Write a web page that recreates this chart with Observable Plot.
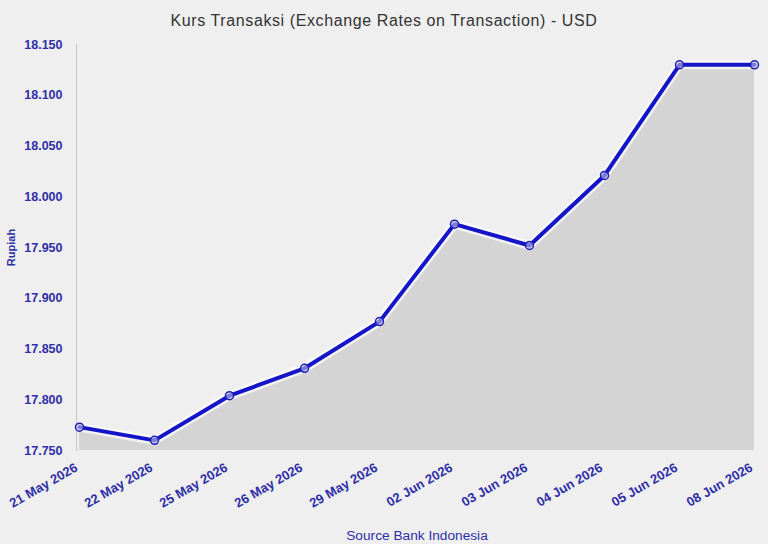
<!DOCTYPE html>
<html>
<head>
<meta charset="utf-8">
<script src="https://cdn.jsdelivr.net/npm/d3@7"></script>
<script src="https://cdn.jsdelivr.net/npm/@observablehq/plot@0.6"></script>
<style>
  html, body { margin: 0; padding: 0; background: #efefef; }
  #wrap { width: 768px; height: 544px; background: #efefef; font-family: "Liberation Sans", Arial, sans-serif; }
  #title { height: 34px; line-height: 41px; text-align: center; font-size: 16px; letter-spacing: 0.6px; color: #333; padding-left: 0; }
  #caption { height: 34px; box-sizing: border-box; padding-top: 17px; line-height: 18px; font-size: 13.7px; color: #2e2ea8; text-align: center; padding-left: 66px; }
  #chart svg { display: block; }
</style>
</head>
<body>
<div id="wrap">
  <div id="title">Kurs Transaksi (Exchange Rates on Transaction) - USD</div>
  <div id="chart"></div>
  <div id="caption">Source Bank Indonesia</div>
</div>
<script>
const dates = ["21 May 2026", "22 May 2026", "25 May 2026", "26 May 2026", "29 May 2026",
               "02 Jun 2026", "03 Jun 2026", "04 Jun 2026", "05 Jun 2026", "08 Jun 2026"];
const rates = [17773, 17760, 17804, 17831, 17877, 17973, 17952, 18021, 18130, 18130];
const yTicks = [17750, 17800, 17850, 17900, 17950, 18000, 18050, 18100, 18150];
const yLabel = "Rupiah";

const data = dates.map((d, i) => ({date: d, rate: rates[i]}));
const idFmt = d3.formatLocale({decimal: ",", thousands: ".", grouping: [3], currency: ["Rp", ""]}).format(",");
const blue = "#1414c8";
const textBlue = "#2e2ea8";

const chart = Plot.plot({
  width: 768,
  height: 476,
  marginTop: 10,
  marginBottom: 60,
  marginLeft: 76,
  marginRight: 11,
  style: {background: "transparent", fontFamily: "Liberation Sans, Arial, sans-serif"},
  x: {type: "point", domain: dates, padding: 0, label: null},
  y: {domain: [yTicks[0], yTicks[yTicks.length - 1]], label: null},
  marks: [
    Plot.areaY(data, {x: "date", y1: yTicks[0], y2: "rate", fill: "#d4d4d4"}),
    Plot.frame({anchor: "left", stroke: "#c4c4c4"}),
    Plot.axisY({ticks: yTicks, tickFormat: idFmt, tickSize: 0, tickPadding: 14, fontSize: 12.5, fontWeight: "bold", fill: textBlue, label: null}),
    Plot.axisX({tickRotate: -30, tickSize: 0, tickPadding: 16, dx: -3, fontSize: 13, fontWeight: "bold", fill: textBlue, label: null}),
    Plot.text([yLabel], {frameAnchor: "left", textAnchor: "middle", dx: -65, rotate: -90, fontSize: 11, fontWeight: "bold", fill: textBlue}),
    Plot.lineY(data, {x: "date", y: "rate", stroke: "white", strokeWidth: 9, strokeOpacity: 0.7}),
    Plot.lineY(data, {x: "date", y: "rate", stroke: blue, strokeWidth: 4}),
    Plot.dot(data, {x: "date", y: "rate", r: 4, stroke: "#2020b0", strokeWidth: 1.5, fill: "#c0c0e8", fillOpacity: 0.6})
  ]
});
document.getElementById("chart").appendChild(chart);
</script>
</body>
</html>
